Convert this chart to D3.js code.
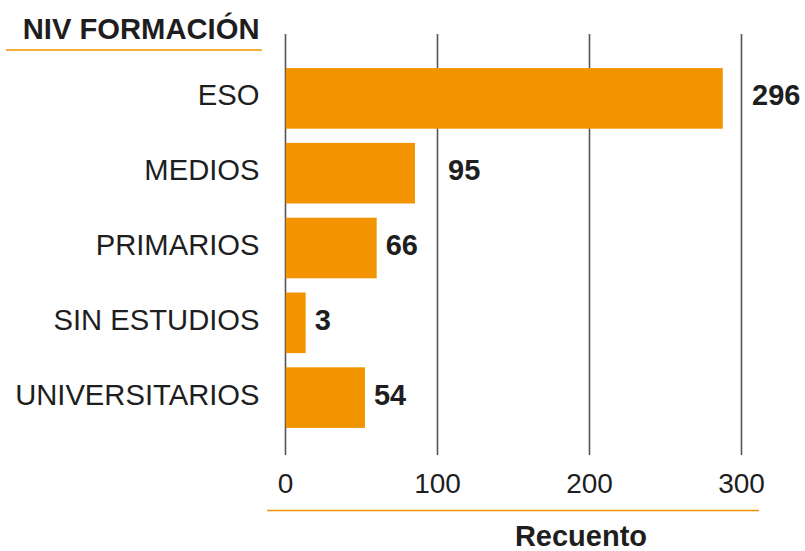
<!DOCTYPE html>
<html>
<head>
<meta charset="utf-8">
<script src="https://cdn.jsdelivr.net/npm/d3@7"></script>
<style>
  body { margin: 0; background: #fff; }
  svg text { font-family: "Liberation Sans", Arial, sans-serif; fill: #1e1e1e; }
</style>
</head>
<body>
<svg id="chart"></svg>
<script>
// data
var categorias = ["ESO", "MEDIOS", "PRIMARIOS", "SIN ESTUDIOS", "UNIVERSITARIOS"];
var recuento = [296, 95, 66, 3, 54];          // value labels as printed
var barras = [288, 85.5, 60.3, 13.6, 52.6];   // bar lengths
var ticks = [0, 100, 200, 300];

var width = 805, height = 551;
var orange = "#f29400";

var svg = d3.select("#chart")
    .attr("width", width)
    .attr("height", height);

var x = d3.scaleLinear().domain([0, 300]).range([285, 741]);
var y = d3.scaleBand().domain(categorias).range([61, 435])
    .paddingInner(0.19).paddingOuter(0.095);

var gridTop = 34, gridBottom = 455;

// gridlines + tick labels
var xAxis = svg.append("g")
    .attr("transform", "translate(0," + gridBottom + ")")
    .call(d3.axisBottom(x).tickValues(ticks).tickSize(-(gridBottom - gridTop)).tickPadding(18));
xAxis.select(".domain").remove();
xAxis.selectAll(".tick line").attr("stroke", "#555").attr("stroke-width", 1.6);
xAxis.selectAll(".tick text")
    .style("font-size", "28px")
    .attr("fill", "#1e1e1e");

// bars
svg.selectAll(".bar")
    .data(categorias)
    .enter().append("rect")
    .attr("class", "bar")
    .attr("x", x(0) + 0.8)
    .attr("y", function (d) { return y(d); })
    .attr("width", function (d, i) { return x(barras[i]) - x(0) - 0.8; })
    .attr("height", y.bandwidth())
    .attr("fill", orange);

// category labels
var yAxis = svg.append("g")
    .attr("transform", "translate(" + x(0) + ",0)")
    .call(d3.axisLeft(y).tickSize(0).tickPadding(25.5));
yAxis.select(".domain").remove();
yAxis.selectAll(".tick text")
    .style("font-size", "29.2px")
    .attr("dy", "0.24em")
    .attr("fill", "#1e1e1e");

// value labels, moved past a gridline when they would sit on it
svg.selectAll(".val")
    .data(categorias)
    .enter().append("text")
    .attr("class", "val")
    .attr("y", function (d) { return y(d) + y.bandwidth() / 2; })
    .attr("dy", "0.24em")
    .style("font-size", "29px")
    .style("font-weight", "bold")
    .text(function (d, i) { return recuento[i]; })
    .attr("x", function (d, i) {
        var x0 = x(barras[i]) + 9;
        var w = this.getComputedTextLength();
        ticks.slice(1).forEach(function (t) {
            var g = x(t);
            if (g > x0 - 3 && g < x0 + w + 3) x0 = g + 11;
        });
        return x0;
    });

// title + underline
svg.append("text")
    .attr("x", 259.5)
    .attr("y", 39)
    .attr("text-anchor", "end")
    .style("font-size", "29.2px")
    .style("font-weight", "bold")
    .text("NIV FORMACIÓN");
svg.append("line")
    .attr("x1", 6).attr("x2", 262)
    .attr("y1", 50).attr("y2", 50)
    .attr("stroke", orange).attr("stroke-width", 1.5);

// x title + line
svg.append("line")
    .attr("x1", 267).attr("x2", 759)
    .attr("y1", 510.5).attr("y2", 510.5)
    .attr("stroke", orange).attr("stroke-width", 1.5);
svg.append("text")
    .attr("x", 581)
    .attr("y", 546)
    .attr("text-anchor", "middle")
    .style("font-size", "29px")
    .style("font-weight", "bold")
    .text("Recuento");
</script>
</body>
</html>
